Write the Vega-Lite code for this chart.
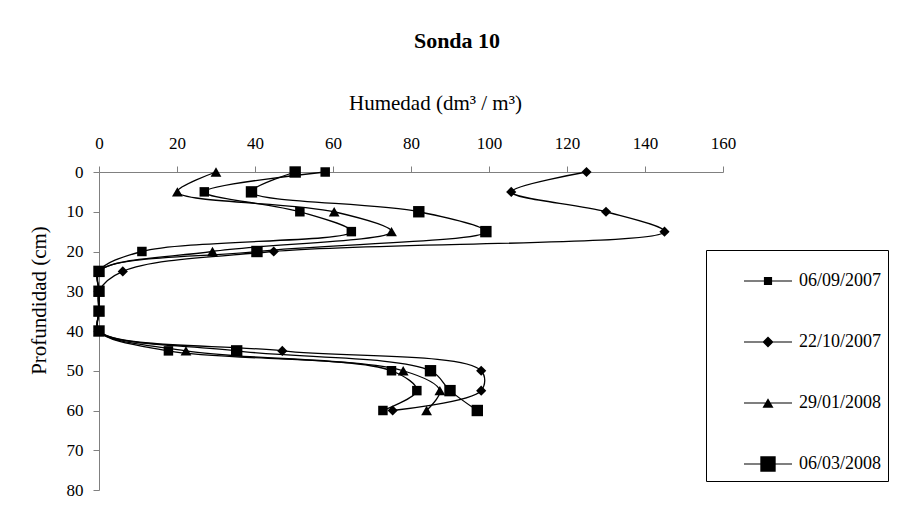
{
  "$schema": "https://vega.github.io/schema/vega-lite/v6.json",
  "autosize": "none",
  "width": 624,
  "height": 318,
  "padding": {"left": 99, "top": 172, "right": 191, "bottom": 33},
  "background": "white",
  "config": {
    "font": "Liberation Serif",
    "view": {"stroke": null},
    "axis": {"labelFont": "Liberation Serif", "titleFont": "Liberation Serif", "labelColor": "black", "titleColor": "black", "titleFontWeight": "normal", "domainColor": "#808080", "tickColor": "#808080", "grid": false}
  },
  "title": {"text": "Sonda 10", "font": "Liberation Serif", "fontSize": 22, "fontWeight": "bold", "color": "black", "anchor": "middle", "dx": 46, "offset": 39},
  "datasets": {
    "humedad": [
      {"fecha": "06/09/2007", "depth": 0, "hum": 58},
      {"fecha": "06/09/2007", "depth": 5, "hum": 27},
      {"fecha": "06/09/2007", "depth": 10, "hum": 51.5},
      {"fecha": "06/09/2007", "depth": 15, "hum": 64.7},
      {"fecha": "06/09/2007", "depth": 20, "hum": 11},
      {"fecha": "06/09/2007", "depth": 25, "hum": 0},
      {"fecha": "06/09/2007", "depth": 30, "hum": 0},
      {"fecha": "06/09/2007", "depth": 35, "hum": 0},
      {"fecha": "06/09/2007", "depth": 40, "hum": 0},
      {"fecha": "06/09/2007", "depth": 45, "hum": 17.8},
      {"fecha": "06/09/2007", "depth": 50, "hum": 75},
      {"fecha": "06/09/2007", "depth": 55, "hum": 81.5},
      {"fecha": "06/09/2007", "depth": 60, "hum": 72.8},
      {"fecha": "22/10/2007", "depth": 0, "hum": 125},
      {"fecha": "22/10/2007", "depth": 5, "hum": 105.7},
      {"fecha": "22/10/2007", "depth": 10, "hum": 130},
      {"fecha": "22/10/2007", "depth": 15, "hum": 145},
      {"fecha": "22/10/2007", "depth": 20, "hum": 44.8},
      {"fecha": "22/10/2007", "depth": 25, "hum": 6.1},
      {"fecha": "22/10/2007", "depth": 30, "hum": 0},
      {"fecha": "22/10/2007", "depth": 35, "hum": 0},
      {"fecha": "22/10/2007", "depth": 40, "hum": 0},
      {"fecha": "22/10/2007", "depth": 45, "hum": 47},
      {"fecha": "22/10/2007", "depth": 50, "hum": 98},
      {"fecha": "22/10/2007", "depth": 55, "hum": 98},
      {"fecha": "22/10/2007", "depth": 60, "hum": 75.3},
      {"fecha": "29/01/2008", "depth": 0, "hum": 30},
      {"fecha": "29/01/2008", "depth": 5, "hum": 20.1},
      {"fecha": "29/01/2008", "depth": 10, "hum": 60.3},
      {"fecha": "29/01/2008", "depth": 15, "hum": 75},
      {"fecha": "29/01/2008", "depth": 20, "hum": 29.1},
      {"fecha": "29/01/2008", "depth": 25, "hum": 0},
      {"fecha": "29/01/2008", "depth": 30, "hum": 0},
      {"fecha": "29/01/2008", "depth": 35, "hum": 0},
      {"fecha": "29/01/2008", "depth": 40, "hum": 0},
      {"fecha": "29/01/2008", "depth": 45, "hum": 22.3},
      {"fecha": "29/01/2008", "depth": 50, "hum": 78},
      {"fecha": "29/01/2008", "depth": 55, "hum": 87.4},
      {"fecha": "29/01/2008", "depth": 60, "hum": 84},
      {"fecha": "06/03/2008", "depth": 0, "hum": 50.3},
      {"fecha": "06/03/2008", "depth": 5, "hum": 39.1},
      {"fecha": "06/03/2008", "depth": 10, "hum": 82},
      {"fecha": "06/03/2008", "depth": 15, "hum": 99.2},
      {"fecha": "06/03/2008", "depth": 20, "hum": 40.5},
      {"fecha": "06/03/2008", "depth": 25, "hum": 0},
      {"fecha": "06/03/2008", "depth": 30, "hum": 0},
      {"fecha": "06/03/2008", "depth": 35, "hum": 0},
      {"fecha": "06/03/2008", "depth": 40, "hum": 0},
      {"fecha": "06/03/2008", "depth": 45, "hum": 35.3},
      {"fecha": "06/03/2008", "depth": 50, "hum": 85},
      {"fecha": "06/03/2008", "depth": 55, "hum": 90},
      {"fecha": "06/03/2008", "depth": 60, "hum": 97}
    ]
  },
  "data": {"name": "humedad"},
  "encoding": {
    "x": {"field": "hum", "type": "quantitative", "scale": {"domain": [0, 160], "nice": false, "zero": false},
      "axis": {"orient": "top", "values": [0, 20, 40, 60, 80, 100, 120, 140, 160], "title": "Humedad (dm³ / m³)", "titleFontSize": 21, "labelFontSize": 17, "tickSize": 6, "labelPadding": 14, "titlePadding": 21, "titleX": 336, "labelFlush": false}},
    "y": {"field": "depth", "type": "quantitative", "scale": {"domain": [0, 80], "reverse": true, "nice": false},
      "axis": {"values": [0, 10, 20, 30, 40, 50, 60, 70, 80], "title": "Profundidad (cm)", "titleFontSize": 21, "labelFontSize": 17, "tickSize": 6, "labelPadding": 10, "titlePadding": 17, "titleY": 128, "labelFlush": false}}
  },
  "layer": [
    {
      "mark": {"type": "line", "color": "black", "strokeWidth": 1.3, "interpolate": "catmull-rom"},
      "encoding": {"detail": {"field": "fecha"}, "order": {"field": "depth", "type": "quantitative"}}
    },
    {
      "mark": {"type": "point", "filled": true, "color": "black", "opacity": 1},
      "encoding": {
        "shape": {"field": "fecha", "type": "nominal", "scale": {"domain": ["06/09/2007", "22/10/2007", "29/01/2008", "06/03/2008"], "range": ["square", "diamond", "triangle-up", "square"]}, "legend": null},
        "size": {"field": "fecha", "type": "nominal", "scale": {"domain": ["06/09/2007", "22/10/2007", "29/01/2008", "06/03/2008"], "range": [90, 130, 140, 256]}, "legend": null}
      }
    },
    {
      "transform": [{"filter": "datum.depth < 0"}],
      "mark": {"type": "point", "filled": true, "color": "black", "opacity": 1},
      "encoding": {
        "shape": {"field": "fecha", "type": "nominal",
          "scale": {"domain": ["06/09/2007", "22/10/2007", "29/01/2008", "06/03/2008"],
            "range": ["M-1,-0.025H1V0.025H-1ZM-0.17,-0.17H0.17V0.17H-0.17Z", "M-1,-0.025H1V0.025H-1ZM0,-0.23L0.23,0L0,0.23L-0.23,0Z", "M-1,-0.025H1V0.025H-1ZM0,-0.2L0.23,0.2H-0.23Z", "M-1,-0.025H1V0.025H-1ZM-0.32,-0.32H0.32V0.32H-0.32Z"]},
          "legend": {"title": null, "orient": "none", "legendX": 607, "legendY": 78, "strokeColor": "black", "fillColor": "white", "padding": 6, "symbolSize": 2304, "symbolOffset": 31, "labelFont": "Liberation Serif", "labelFontSize": 18, "labelColor": "black", "labelOffset": 6, "rowPadding": 27, "symbolFillColor": "black", "symbolOpacity": 1, "labelExpr": "datum.label + '\u00a0\u00a0\u00a0'"}
        }
      }
    }
  ],
  "resolve": {"scale": {"shape": "independent"}}
}
